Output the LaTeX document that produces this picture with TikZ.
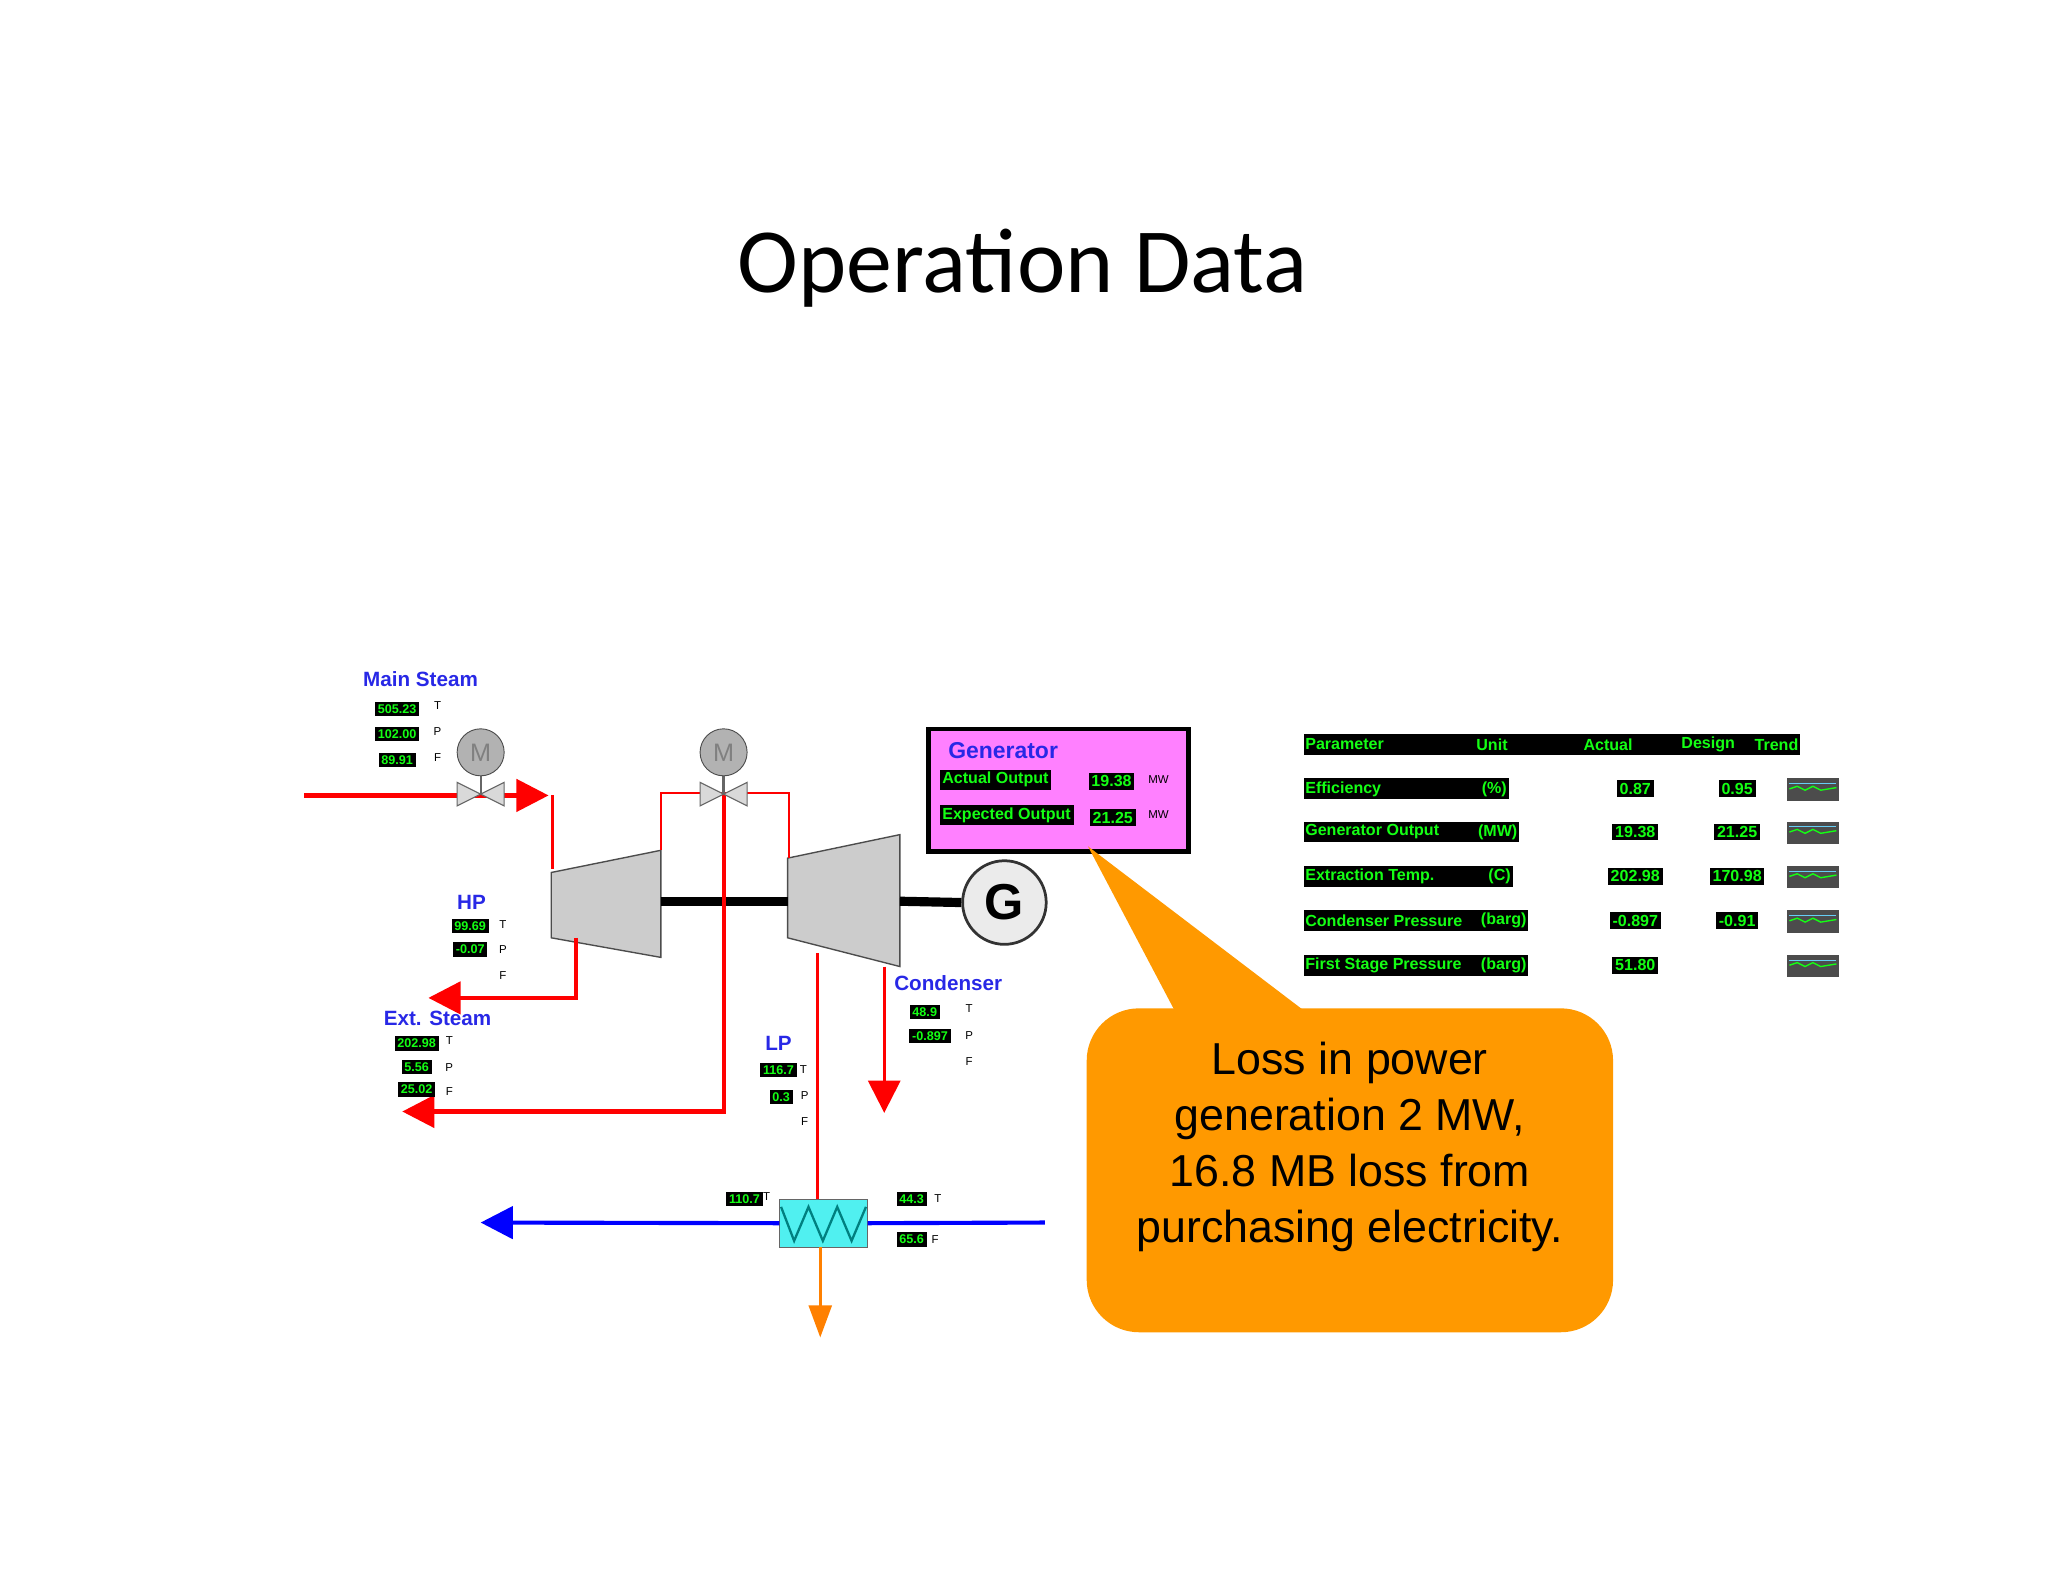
\documentclass[tikz,border=0pt]{standalone}
\usepackage{fontspec}
\setmainfont{Liberation Sans}
\newfontfamily\titlefont{Carlito}
\usetikzlibrary{arrows.meta,shapes.geometric}
\definecolor{scblue}{RGB}{40,40,230}
\definecolor{scgreen}{RGB}{20,255,20}
\definecolor{callout}{RGB}{255,153,0}
\definecolor{gen}{RGB}{255,128,255}
\definecolor{hxcol}{RGB}{80,240,240}
\begin{document}
\begin{tikzpicture}[x=0.02cm,y=-0.02cm,
  lbl/.style={text=scblue,font=\fontsize{9}{9}\selectfont\bfseries,inner sep=0},
  dbox/.style={fill=black,text=scgreen,font=\fontsize{5.5}{5.5}\selectfont\bfseries,inner sep=1.2pt},
  tpf/.style={font=\fontsize{5}{5}\selectfont,inner sep=0},
  pipe/.style={draw=red,line width=1.8pt},
  thin/.style={draw=red,line width=1.1pt},
  bigarrow/.style={-{Triangle[length=14pt,width=14pt]}},
  turb/.style={fill=black!20,draw=black!70,line width=0.6pt},
  shaft/.style={line width=4pt,black},
  tcell/.style={fill=black,text=scgreen,font=\fontsize{7}{7}\selectfont\bfseries,inner sep=1.2pt,anchor=west}
]
\useasboundingbox (0,0) rectangle (1568,1211.2);
\node[font=\titlefont\fontsize{40}{40}\selectfont] (title) at (783,205) {Operation Data};

% turbines
\path[turb] (422,668) -- (506,651) -- (506,733) -- (422,718) -- cycle;
\path[turb] (603,657) -- (689,639) -- (689,740) -- (603,718) -- cycle;
\coordinate (hpr) at (506,690); \coordinate (lpl) at (603,690);
\coordinate (lpr) at (689,690);
\node[circle,draw=black!80,fill=black!8,line width=1.2pt,minimum size=64*0.02cm,font=\fontsize{22}{22}\selectfont\bfseries] (G) at (769,691) {G};
\draw[shaft] (hpr) -- (lpl);
\draw[shaft] (lpr) -- (G.west);

% main steam
\coordinate (ms0) at (233,609); \coordinate (ms1) at (420,609);
\draw[pipe,bigarrow] (ms0) -- (ms1);
\coordinate (hpin0) at (423,609); \coordinate (hpin1) at (423,665);
\draw[thin] (hpin0) -- (hpin1);
% crossover
\draw[thin] (506,651) -- (506,607) -- (604,607) -- (604,657);
% extraction to left bottom
\coordinate (ex0) at (554,607); \coordinate (ex1) at (308,851);
\draw[pipe,bigarrow] (ex0) -- (554,851) -- (ex1);
% HP ext
\coordinate (hx0) at (441,718); \coordinate (hx1) at (328,764);
\draw[pipe,bigarrow] (hx0) -- (441,764) -- (hx1);
% condenser
\coordinate (cd0) at (677,740); \coordinate (cd1) at (677,852);
\draw[thin,bigarrow] (cd0) -- (cd1);
% heat exchanger
\node[draw=black!60,fill=hxcol,minimum width=67*0.02cm,minimum height=37*0.02cm,inner sep=0] (hx) at (630.5,936.5) {};
\draw[teal,line width=1pt] (598,924) -- (608,950) -- (619,924) -- (630,950) -- (641,924) -- (652,950) -- (663,924);
\draw[thin] (626,730) -- (626,918);
\coordinate (bl0) at (800,936); \coordinate (bl1) at (368,936);
\draw[blue,line width=1.8pt] (bl0) -- (hx.east);
\draw[blue,line width=1.8pt,bigarrow] (hx.west) -- (bl1);
\coordinate (or1) at (628,1024);
\draw[orange,line width=1.2pt,-{Triangle[length=14pt,width=10pt]}] (628,955) -- (or1);

% valves
\foreach \vx/\nm in {368/va,554/vb}{
  \draw[black!60,fill=black!15,line width=0.5pt] (\vx-18,599) -- (\vx-18,617) -- (\vx+18,599) -- (\vx+18,617) -- cycle;
  \draw[black!60,line width=1pt] (\vx,592) -- (\vx,608);
  \node[circle,draw=black!70,fill=black!30,minimum size=36*0.02cm,inner sep=0,font=\fontsize{11}{11}\selectfont,text=black!50] (\nm) at (\vx,576) {M};
}

% labels
\node[lbl] (lms) at (322,520) {Main Steam};
\node[dbox] (d1) at (304,543) {505.23}; \node[tpf] at (335,540) {T};
\node[dbox] (d2) at (304,562) {102.00}; \node[tpf] at (335,560) {P};
\node[dbox] (d3) at (304,582) {89.91}; \node[tpf] at (335,580) {F};
\node[lbl] (lhp) at (361,691) {HP};
\node[dbox] at (360,709) {99.69}; \node[tpf] at (385,708) {T};
\node[dbox] at (360,727) {-0.07}; \node[tpf] at (385,727) {P};
\node[tpf] at (385,747) {F};
\node[lbl] (lex) at (335,780) {Ext. Steam};
\node[dbox] at (319,799) {202.98}; \node[tpf] at (344,797) {T};
\node[dbox] at (319,817) {5.56}; \node[tpf] at (344,817) {P};
\node[dbox] at (319,834) {25.02}; \node[tpf] at (344,836) {F};
\node[lbl] (llp) at (596,799) {LP};
\node[dbox] at (596,819) {116.7}; \node[tpf] at (615,819) {T};
\node[dbox] at (598,840) {0.3}; \node[tpf] at (616,839) {P};
\node[tpf] at (616,859) {F};
\node[lbl] (lcd) at (726,753) {Condenser};
\node[dbox] at (708,775) {48.9}; \node[tpf] at (742,772) {T};
\node[dbox] at (712,793) {-0.897}; \node[tpf] at (742,793) {P};
\node[tpf] at (742,813) {F};
\node[dbox] at (570,918) {110.7}; \node[tpf] at (587,916) {T};
\node[dbox] at (698,918) {44.3}; \node[tpf] at (718,918) {T};
\node[dbox] at (698,949) {65.6}; \node[tpf] at (716,949) {F};

% generator box
\node[draw=black,line width=2pt,fill=gen,minimum width=199*0.02cm,minimum height=94*0.02cm,inner sep=0] (genbox) at (810.5,605) {};
\node[lbl,font=\fontsize{10}{10}\selectfont\bfseries] at (768,575) {Generator};
\node[tcell] at (719,597) {Actual Output};
\node[tcell] at (719,624) {Expected Output};
\node[dbox,font=\fontsize{7}{7}\selectfont\bfseries] at (851,598) {19.38};
\node[dbox,font=\fontsize{7}{7}\selectfont\bfseries] at (852,626) {21.25};
\node[tpf] at (887,597) {MW}; \node[tpf] at (887,624) {MW};

% callout
\coordinate (tip) at (833,648);
\fill[callout] (tip) -- (1000,775) -- (900,775) -- cycle;
\node[fill=callout,rounded corners=40*0.02cm,minimum width=403*0.02cm,minimum height=248*0.02cm,inner sep=0] (co) at (1033.5,896) {};
\node[align=center,font=\fontsize{19.5}{24.5}\selectfont,inner sep=0] (cotext) at (1033.5,878) {Loss in power\\generation 2 MW,\\16.8 MB loss from\\purchasing electricity.};

% table
\fill[black] (998,562) rectangle (1378,578);
\foreach \tx/\tt in {999/Parameter,1130/Unit,1212/Actual,1287/Design,1343/Trend}
  \node[text=scgreen,font=\fontsize{7}{7}\selectfont\bfseries,anchor=west,inner sep=0] at (\tx,570) {\tt};
\foreach \ry/\pn/\un/\ac/\de/\w in {604/Efficiency/(\%)/0.87/0.95/1155, 637/Generator Output/(MW)/19.38/21.25/1163, 671/Extraction Temp./(C)/202.98/170.98/1158, 705/Condenser Pressure/(barg)/-0.897/-0.91/1170, 739/First Stage Pressure/(barg)/51.80//1170}{
  \fill[black] (998,\ry-8) rectangle (\w,\ry+8);
  \node[text=scgreen,font=\fontsize{7}{7}\selectfont\bfseries,anchor=west,inner sep=0] at (999,\ry) {\pn};
  \node[text=scgreen,font=\fontsize{7}{7}\selectfont\bfseries,anchor=east,inner sep=0] at (\w-1,\ry) {\un};
  \node[dbox,font=\fontsize{7}{7}\selectfont\bfseries] at (1252,\ry) {\ac};
  \ifx\de\empty\else\node[dbox,font=\fontsize{7}{7}\selectfont\bfseries] at (1330,\ry) {\de};\fi
  \fill[black!70] (1368,\ry-8) rectangle (1408,\ry+9);
  \draw[scgreen,line width=0.6pt] (1370,\ry) -- (1376,\ry-2) -- (1382,\ry+1) -- (1388,\ry-2) -- (1394,\ry+1) -- (1406,\ry-1);
  \draw[cyan!60,line width=0.4pt] (1370,\ry-4) -- (1406,\ry-4);
}
\end{tikzpicture}
\end{document}
